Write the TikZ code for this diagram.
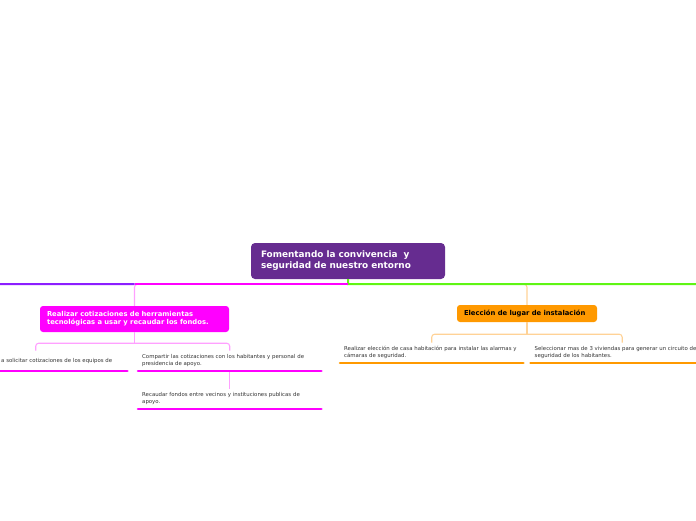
\documentclass[tikz,border=0pt]{standalone}
\usepackage{fontspec}
\setmainfont{DejaVu Sans}
\usetikzlibrary{positioning,calc}

\definecolor{rootpurple}{RGB}{102,44,144}
\definecolor{magtopic}{RGB}{255,0,255}
\definecolor{maglight}{RGB}{255,160,255}
\definecolor{ortopic}{RGB}{255,153,0}
\definecolor{orlight}{RGB}{255,210,150}
\definecolor{hubgreen}{RGB}{95,245,20}
\definecolor{hubviolet}{RGB}{140,30,255}

\begin{document}
\begin{tikzpicture}[
  x=1pt, y=-1pt,
  font=\fontsize{5.4}{7}\selectfont,
  rootbox/.style={rounded corners=4pt, fill=rootpurple, text=white,
                  font=\fontsize{8.9}{11}\selectfont\bfseries, align=left,
                  text width=174pt, inner xsep=10pt, minimum height=36pt},
  topicbox/.style={rounded corners=3pt, align=left, inner xsep=7pt, inner ysep=1pt,
                   font=\fontsize{6.8}{8}\selectfont\bfseries},
  magbox/.style={topicbox, fill=magtopic, text=white, text width=175pt, minimum height=26pt},
  orbox/.style={topicbox, fill=ortopic, text=black, text width=126pt, minimum height=17pt},
  leaf/.style={align=left, text width=175pt, inner xsep=4pt, inner ysep=1pt,
               minimum height=20pt, text=black!80, anchor=south west},
  hub/.style={line width=2pt},
  twig/.style={line width=1.1pt, rounded corners=3pt},
  uline/.style={line width=2.6pt, line cap=round},
]
\useasboundingbox (0,0) rectangle (696,520);
\clip (0,0) rectangle (696,520);

% Central topic
\node[rootbox] (root) at (348,261)
  {Fomentando la convivencia\ \ y\\seguridad de nuestro entorno};

% Main topics
\node[magbox] (mag) at (134.5,319)
  {Realizar cotizaciones de herramientas\\tecnológicas a usar y recaudar los fondos.};
\node[orbox] (orange) at (527,313.5) {Elección de lugar de instalación};

% Subtopics
\node[leaf, align=right] (c1) at (-56,371)
  {a solicitar cotizaciones de los equipos de\hspace*{11pt}\null};
\node[leaf] (c2) at (138,371)
  {Compartir las cotizaciones con los habitantes y personal de\\presidencia de apoyo.};
\node[leaf] (c3) at (138,409)
  {Recaudar fondos entre vecinos y instituciones publicas de\\apoyo.};
\node[leaf] (c4) at (340,363)
  {\mbox{Realizar elección de casa habitación para instalar las alarmas y}\\cámaras de seguridad.};
\node[leaf] (c5) at (530.5,363)
  {Seleccionar mas de 3 viviendas para generar un circuito de\\seguridad de los habitantes.};

% Connectors
\coordinate (hub) at ($(root.south)+(0,5)$);
\coordinate (westend) at (-4,284);
\coordinate (eastend) at (700,284);
\draw[twig, maglight] (mag.north) -- (mag.north |- hub) -- ++(4,0);
\draw[twig, orlight] (orange.north) -- (orange.north |- hub) -- ++(-4,0);
\draw[hub, hubgreen] (root.south) -- (hub) -- (eastend);
\draw[hub, magtopic] (hub) -- (hub -| mag.north);
\draw[hub, hubviolet] (hub -| mag.north) -- (westend);

\draw[twig, maglight] (c1.north) |- ($(mag.south)+(0,11)$) -| (c2.north);
\draw[twig, maglight] (mag.south) -- ($(mag.south)+(0,11)$);
\draw[twig, maglight] (c2.south) -- (c3.north);
\draw[twig, orlight] (c4.north) |- ($(orange.south)+(0,12)$) -| (c5.north);
\draw[twig, orlight] (orange.south) -- ($(orange.south)+(0,12)$);

% Underlines
\draw[uline, magtopic] (c1.south west) -- (c1.south east);
\draw[uline, magtopic] (c2.south west) -- (c2.south east);
\draw[uline, magtopic] (c3.south west) -- (c3.south east);
\draw[uline, ortopic] (c4.south west) -- (c4.south east);
\draw[uline, ortopic] (c5.south west) -- (c5.south east);

\end{tikzpicture}
\end{document}
